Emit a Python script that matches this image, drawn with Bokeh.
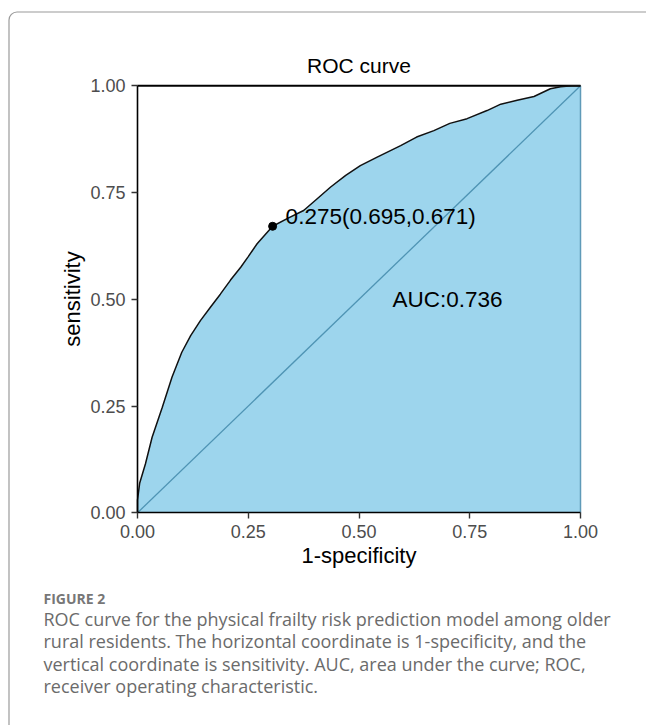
from bokeh.plotting import figure
from bokeh.models import Range1d, FixedTicker, Label, BoxAnnotation, LinearAxis
from bokeh.embed import file_html
from bokeh.resources import INLINE

# ---- data ----
fpr = [0.0, 0.0, 0.005, 0.018, 0.033, 0.056, 0.078, 0.100, 0.120, 0.142, 0.165,
       0.187, 0.210, 0.233, 0.250, 0.270, 0.305, 0.340, 0.375, 0.405, 0.436,
       0.470, 0.503, 0.541, 0.594, 0.630, 0.669, 0.705, 0.744, 0.789, 0.820,
       0.857, 0.895, 0.932, 0.955, 0.980, 1.0]
tpr = [0.0, 0.03, 0.07, 0.115, 0.177, 0.247, 0.318, 0.376, 0.415, 0.450, 0.482,
       0.512, 0.545, 0.575, 0.600, 0.630, 0.671, 0.690, 0.708, 0.735, 0.763,
       0.790, 0.813, 0.833, 0.860, 0.880, 0.895, 0.912, 0.923, 0.942, 0.957,
       0.966, 0.975, 0.993, 0.998, 1.0, 1.0]
diag_x = [0.0, 1.0]
diag_y = [0.0, 1.0]
cut_fpr = [0.305]
cut_tpr = [0.671]
cut_label = "0.275(0.695,0.671)"
auc_x = 0.70
auc_y = 0.50
auc_label = "AUC:0.736"
tick_values = [0.0, 0.25, 0.5, 0.75, 1.0]
tick_labels = ["0.00", "0.25", "0.50", "0.75", "1.00"]
title_text = "ROC curve"
x_label = "1-specificity"
y_label = "sensitivity"
caption_head = "FIGURE 2"
caption_lines = [
    "ROC curve for the physical frailty risk prediction model among older",
    "rural residents. The horizontal coordinate is 1-specificity, and the",
    "vertical coordinate is sensitivity. AUC, area under the curve; ROC,",
    "receiver operating characteristic.",
]

# ---- page layout (pixels) ----
W, H = 646, 725
PX0, PX1 = 137.0, 580.0      # pixel x of data 0 and 1
PY0, PY1 = 512.3, 85.3       # pixel y of data 0 and 1


def dx(px):
    return (px - PX0) / (PX1 - PX0)


def dy(py):
    return (PY0 - py) / (PY0 - PY1)


FONT = "Liberation Sans"

p = figure(width=W, height=H, x_range=Range1d(dx(0), dx(W)), y_range=Range1d(dy(H), dy(0)),
           output_backend="svg", toolbar_location=None, title=None,
           x_axis_type=None, y_axis_type=None,
           min_border_left=0, min_border_right=0, min_border_top=0, min_border_bottom=0)
p.outline_line_color = None
p.background_fill_color = "white"
p.border_fill_color = "white"

# outer frame box
p.add_layout(BoxAnnotation(left=dx(8.5), right=dx(700), top=dy(11.5), bottom=dy(780),
                           fill_color=None, fill_alpha=0,
                           line_color="#9a9a9a", line_alpha=1.0, line_width=1.2,
                           border_radius=8))

# area under the curve
p.varea(x=fpr, y1=0, y2=tpr, fill_color="#9dd5ed")
# diagonal reference and right edge
p.line(diag_x, diag_y, line_color="#4f94b4", line_width=1.3)
p.line([fpr[-1], fpr[-1]], [0, tpr[-1]], line_color="#5f9ab8", line_width=1.5)
# top line
p.line([fpr[0], fpr[-1]], [tpr[-1], tpr[-1]], line_color="black", line_width=2)
# ROC curve
p.line(fpr, tpr, line_color="#111111", line_width=1.5)
# cut-off point
p.scatter(cut_fpr, cut_tpr, size=8, color="black")

p.add_layout(Label(x=cut_fpr[0], y=cut_tpr[0], x_offset=13, y_offset=10,
                   text=cut_label, text_font=FONT, text_font_size="22.5px",
                   text_color="black", text_baseline="middle"))
p.add_layout(Label(x=auc_x, y=auc_y, text=auc_label, text_font=FONT,
                   text_font_size="22.5px", text_color="black",
                   text_align="center", text_baseline="middle"))

# title
p.add_layout(Label(x=0.5, y=dy(65), text=title_text, text_font=FONT,
                   text_font_size="21px", text_color="black",
                   text_align="center", text_baseline="middle"))

# axes (fixed at the data origin)
xaxis = LinearAxis(fixed_location=0, bounds=(0, 1))
yaxis = LinearAxis(fixed_location=0, bounds=(0, 1))
p.add_layout(xaxis, "below")
p.add_layout(yaxis, "left")
for ax in (xaxis, yaxis):
    ax.ticker = FixedTicker(ticks=tick_values)
    ax.major_label_overrides = {v: l for v, l in zip(tick_values, tick_labels)}
    ax.axis_line_color = "black"
    ax.axis_line_width = 1.6
    ax.major_tick_line_color = "#333333"
    ax.major_tick_line_width = 1.4
    ax.major_tick_out = 6
    ax.major_tick_in = 0
    ax.minor_tick_out = 0
    ax.minor_tick_in = 0
    ax.major_label_text_font = FONT
    ax.major_label_text_font_size = "18px"
    ax.major_label_text_color = "#4d4d4d"
    ax.axis_label_text_font = FONT
    ax.axis_label_text_font_size = "22px"
    ax.axis_label_text_font_style = "normal"
    ax.axis_label_text_color = "black"

xaxis.axis_label = x_label
xaxis.major_label_standoff = 6
xaxis.axis_label_standoff = 2
yaxis.axis_label = y_label
yaxis.major_label_standoff = 6
yaxis.axis_label_standoff = 2

# caption
p.add_layout(Label(x=dx(43), y=dy(598), text=caption_head, text_font="Open Sans",
                   text_font_size="14px", text_font_style="bold",
                   text_color="#777777", text_baseline="middle"))
line_y = [618, 640.5, 663, 685.5]
for t, yy in zip(caption_lines, line_y):
    p.add_layout(Label(x=dx(43), y=dy(yy), text=t, text_font="Open Sans",
                       text_font_size="18px", text_color="#6b6b6b",
                       text_baseline="middle"))

open("out.html", "w").write(file_html(p, INLINE))
